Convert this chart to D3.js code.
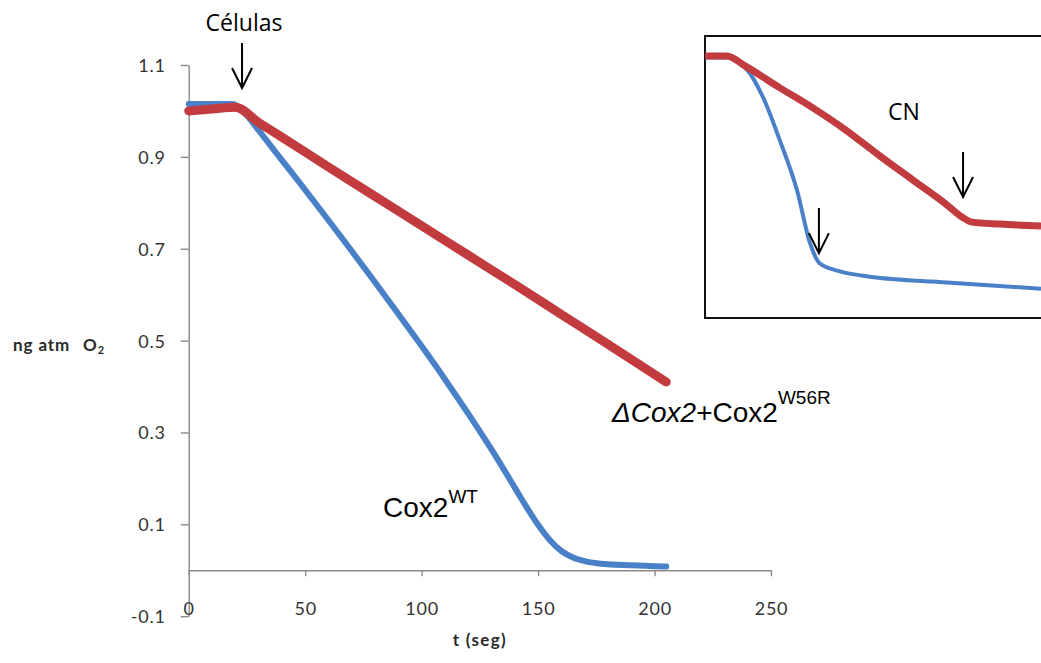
<!DOCTYPE html>
<html>
<head>
<meta charset="utf-8">
<script src="https://cdn.jsdelivr.net/npm/d3@7"></script>
<style>
  html, body { margin: 0; padding: 0; background: #ffffff; }
  svg { display: block; }
</style>
</head>
<body>
<svg id="chart" width="1041" height="663"></svg>
<script>
// ---------- data ----------
const xTicks = [0, 50, 100, 150, 200, 250];
const yTicks = [-0.1, 0.1, 0.3, 0.5, 0.7, 0.9, 1.1];

// Cox2 WT (blue): time (s) vs ng atm O2
const wtT = [0, 10, 19, 22, 25, 30, 40, 50, 60, 70, 80, 90, 100, 110, 120, 130, 140, 145, 150, 155, 160, 165, 170, 180, 190, 200, 205];
const wtV = [1.015, 1.015, 1.015, 1.005, 0.99, 0.958, 0.893, 0.828, 0.762, 0.695, 0.627, 0.558, 0.488, 0.416, 0.341, 0.263, 0.18, 0.138, 0.099, 0.066, 0.042, 0.028, 0.02, 0.013, 0.011, 0.009, 0.008];

// ΔCox2 + Cox2 W56R (red)
const mutT = [0, 10, 20, 30, 40, 60, 80, 100, 120, 140, 160, 180, 205];
const mutV = [1.0, 1.004, 1.008, 0.975, 0.943, 0.878, 0.814, 0.75, 0.686, 0.622, 0.557, 0.492, 0.41];

// Inset (CN addition), relative units
const inRedT = [0, 6.5, 11.9, 22.3, 32.1, 42.3, 52.1, 61.9, 72.0, 76.5, 79.5, 87.8, 100];
const inRedV = [0.929, 0.929, 0.894, 0.816, 0.745, 0.663, 0.574, 0.489, 0.401, 0.358, 0.34, 0.333, 0.326];
const inBlueT = [0, 6.5, 10.4, 12.5, 17.3, 22.3, 27.4, 31.3, 34.2, 39.3, 47.0, 72.0, 100];
const inBlueV = [0.924, 0.924, 0.902, 0.881, 0.782, 0.629, 0.452, 0.264, 0.193, 0.168, 0.15, 0.126, 0.104];

// annotation arrows
const cellArrow = {t: 22.9, v0: 1.148, v1: 1.05};
const inArrows = [{t: 33.9, v0: 0.39, v1: 0.23}, {t: 76.8, v0: 0.589, v1: 0.429}];

const RED = "#C23B3E";
const BLUE = "#4A80C8";

// ---------- scales ----------
const svg = d3.select("#chart");
const x = d3.scaleLinear().domain([0, 250]).range([188.7, 771]);
const y = d3.scaleLinear().domain([-0.1, 1.1]).range([616.2, 65]);

const ix = d3.scaleLinear().domain([0, 100]).range([705, 1041]);
const iy = d3.scaleLinear().domain([0, 1]).range([318, 36]);

// ---------- axes ----------
const yAxis = d3.axisLeft(y).tickValues(yTicks).tickSize(8).tickSizeOuter(0)
  .tickPadding(15).tickFormat(d => d.toFixed(1));
const gy = svg.append("g").attr("transform", `translate(${x(0)},0)`).call(yAxis);

const xAxis = d3.axisBottom(x).tickValues(xTicks).tickSize(6).tickSizeOuter(0)
  .tickPadding(26).tickFormat(d => String(d));
const gx = svg.append("g").attr("transform", `translate(0,${y(0)})`).call(xAxis);

[gx, gy].forEach(g => {
  g.select(".domain").attr("stroke", "#8a8a8a").attr("stroke-width", 1.4);
  g.selectAll(".tick line").attr("stroke", "#8a8a8a").attr("stroke-width", 1.4);
  g.selectAll(".tick text")
    .attr("fill", "#333")
    .style("font-family", "Lato, 'Open Sans', sans-serif")
    .style("font-size", "18px")
    .style("letter-spacing", "0.8px");
});
gy.selectAll(".tick text").attr("dy", "0.36em");

// axis titles
svg.append("text")
  .attr("x", x(125)).attr("y", 646)
  .attr("text-anchor", "middle")
  .attr("fill", "#2a2a2a")
  .style("font-family", "Lato, sans-serif").style("font-weight", "bold")
  .style("font-size", "17px").style("letter-spacing", "1.3px")
  .text("t (seg)");

const yl = svg.append("text")
  .attr("x", 13).attr("y", 351)
  .attr("fill", "#2a2a2a")
  .style("font-family", "Lato, sans-serif").style("font-weight", "bold")
  .style("font-size", "17px").style("letter-spacing", "0.9px");
yl.append("tspan").text("ng atm");
yl.append("tspan").attr("x", 83).text("O");
yl.append("tspan").attr("font-size", "11px").attr("dy", 3).text("2");

// ---------- main series ----------
const line = d3.line().x(d => x(d[0])).y(d => y(d[1])).curve(d3.curveMonotoneX);

svg.append("path")
  .datum(wtT.map((t, i) => [t, wtV[i]]))
  .attr("d", line).attr("fill", "none")
  .attr("stroke", BLUE).attr("stroke-width", 6).attr("stroke-linecap", "round").attr("stroke-linejoin", "round");

svg.append("path")
  .datum(mutT.map((t, i) => [t, mutV[i]]))
  .attr("d", line).attr("fill", "none")
  .attr("stroke", RED).attr("stroke-width", 9).attr("stroke-linecap", "round").attr("stroke-linejoin", "round");

// ---------- arrows ----------
function arrow(px, py0, py1) {
  const p = d3.path();
  p.moveTo(px, py0); p.lineTo(px, py1);
  p.moveTo(px - 10, py1 - 20); p.lineTo(px, py1); p.lineTo(px + 10, py1 - 20);
  svg.append("path").attr("d", p.toString()).attr("fill", "none")
    .attr("stroke", "#000").attr("stroke-width", 2);
}
arrow(x(cellArrow.t), y(cellArrow.v0), y(cellArrow.v1));

svg.append("text")
  .attr("x", x(cellArrow.t) + 2).attr("y", 31)
  .attr("text-anchor", "middle")
  .style("font-family", "'Open Sans', sans-serif").style("font-size", "23px")
  .attr("fill", "#000")
  .text("Células");

// ---------- series labels ----------
const lab1 = svg.append("text")
  .attr("x", 612).attr("y", 421.7)
  .style("font-family", "'Liberation Sans', Arial, sans-serif").style("font-size", "28px")
  .attr("fill", "#000");
lab1.append("tspan").style("font-style", "italic").text("ΔCox2");
lab1.append("tspan").text("+Cox2");
lab1.append("tspan").attr("dy", -18).style("font-size", "19px").text("W56R");

const lab2 = svg.append("text")
  .attr("x", 383).attr("y", 516.7)
  .style("font-family", "'Liberation Sans', Arial, sans-serif").style("font-size", "28px")
  .attr("fill", "#000");
lab2.append("tspan").text("Cox2");
lab2.append("tspan").attr("dy", -14).style("font-size", "19px").text("WT");

// ---------- inset ----------
const inset = svg.append("g");
inset.append("rect")
  .attr("x", ix(0)).attr("y", iy(1))
  .attr("width", ix(100) - ix(0) + 20).attr("height", iy(0) - iy(1))
  .attr("fill", "#fff").attr("stroke", "#111").attr("stroke-width", 2);

const iline = d3.line().x(d => ix(d[0])).y(d => iy(d[1])).curve(d3.curveMonotoneX);
inset.append("path")
  .datum(inBlueT.map((t, i) => [t, inBlueV[i]]))
  .attr("d", iline).attr("fill", "none")
  .attr("stroke", BLUE).attr("stroke-width", 4).attr("stroke-linejoin", "round");
inset.append("path")
  .datum(inRedT.map((t, i) => [t, inRedV[i]]))
  .attr("d", iline).attr("fill", "none")
  .attr("stroke", RED).attr("stroke-width", 7).attr("stroke-linejoin", "round");

inArrows.forEach(a => arrow(ix(a.t), iy(a.v0), iy(a.v1)));

inset.append("text")
  .attr("x", 904).attr("y", 120)
  .attr("text-anchor", "middle")
  .style("font-family", "'Open Sans', sans-serif").style("font-size", "23px")
  .attr("fill", "#000")
  .text("CN");
</script>
</body>
</html>
